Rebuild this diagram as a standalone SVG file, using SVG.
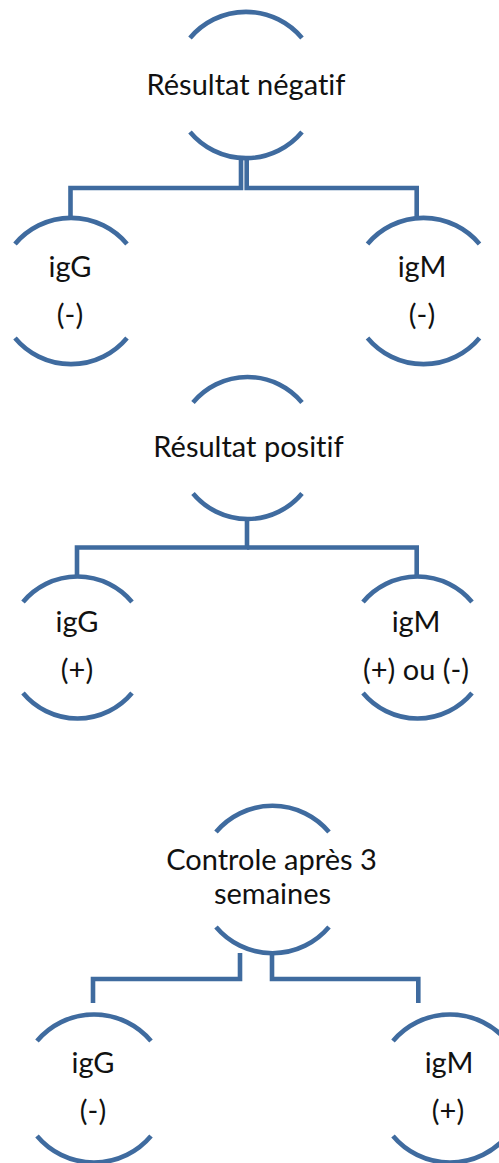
<svg xmlns="http://www.w3.org/2000/svg" width="499" height="1163" viewBox="0 0 499 1163">
  <style>
    .arc { fill: none; stroke: #3F6B9F; stroke-width: 4.6; }
    .conn path { fill: none; stroke: #3F6B9F; stroke-width: 4.6; stroke-linejoin: miter; }
    text { font-family: Lato, "Open Sans", sans-serif; font-size: 29px; fill: #111; text-anchor: middle; font-variant-ligatures: none; font-feature-settings: "liga" 0, "clig" 0; }
  </style>
  <rect width="499" height="1163" fill="#fff"/>

  <g id="connectors" class="conn">
    <path d="M241 160 V188 H70.5 V216"/>
    <path d="M246.7 160 V188 H416.7 V216"/>
    <path d="M247 517 V547.5 H77 V575"/>
    <path d="M247 547.5 H416.7 V575"/>
    <path d="M240 953 V979 H93 V1003"/>
    <path d="M272 953 V979 H418.3 V1003"/>
  </g>

  <g id="node-negatif">
    <path class="arc" d="M190 38 A73 73 0 0 1 302 38"/>
    <path class="arc" d="M190 132 A73 73 0 0 0 302 132"/>
    <text x="246" y="95">Résultat négatif</text>
  </g>
  <g id="node-neg-igg">
    <path class="arc" d="M15 244 A73 73 0 0 1 127 244"/>
    <path class="arc" d="M15 338 A73 73 0 0 0 127 338"/>
    <text x="70" y="277">igG</text>
    <text x="70" y="325">(-)</text>
  </g>
  <g id="node-neg-igm">
    <path class="arc" d="M367.5 244 A73 73 0 0 1 479.5 244"/>
    <path class="arc" d="M367.5 338 A73 73 0 0 0 479.5 338"/>
    <text x="422" y="277">igM</text>
    <text x="422" y="325">(-)</text>
  </g>

  <g id="node-positif">
    <path class="arc" d="M193 402.5 A71 71 0 0 1 302 402.5"/>
    <path class="arc" d="M193 493.5 A71 71 0 0 0 302 493.5"/>
    <text x="248.5" y="457">Résultat positif</text>
  </g>
  <g id="node-pos-igg">
    <path class="arc" d="M23 602 A71 71 0 0 1 132 602"/>
    <path class="arc" d="M23 693 A71 71 0 0 0 132 693"/>
    <text x="77" y="632">igG</text>
    <text x="77" y="680">(+)</text>
  </g>
  <g id="node-pos-igm">
    <path class="arc" d="M363 602 A71 71 0 0 1 472 602"/>
    <path class="arc" d="M363 693 A71 71 0 0 0 472 693"/>
    <text x="416" y="632">igM</text>
    <text x="416" y="680">(+) ou (-)</text>
  </g>

  <g id="node-controle">
    <path class="arc" d="M216 832 A74 74 0 0 1 329 832"/>
    <path class="arc" d="M216 927 A74 74 0 0 0 329 927"/>
    <text x="271.5" y="870">Controle après 3</text>
    <text x="272.5" y="904">semaines</text>
  </g>
  <g id="node-ctrl-igg">
    <path class="arc" d="M37 1041 A74.5 74.5 0 0 1 151 1041"/>
    <path class="arc" d="M37 1136 A74.5 74.5 0 0 0 151 1136"/>
    <text x="93" y="1073">igG</text>
    <text x="93" y="1121">(-)</text>
  </g>
  <g id="node-ctrl-igm">
    <path class="arc" d="M393 1041 A74.5 74.5 0 0 1 507 1041"/>
    <path class="arc" d="M393 1136 A74.5 74.5 0 0 0 507 1136"/>
    <text x="449" y="1073">igM</text>
    <text x="448" y="1121">(+)</text>
  </g>
</svg>
